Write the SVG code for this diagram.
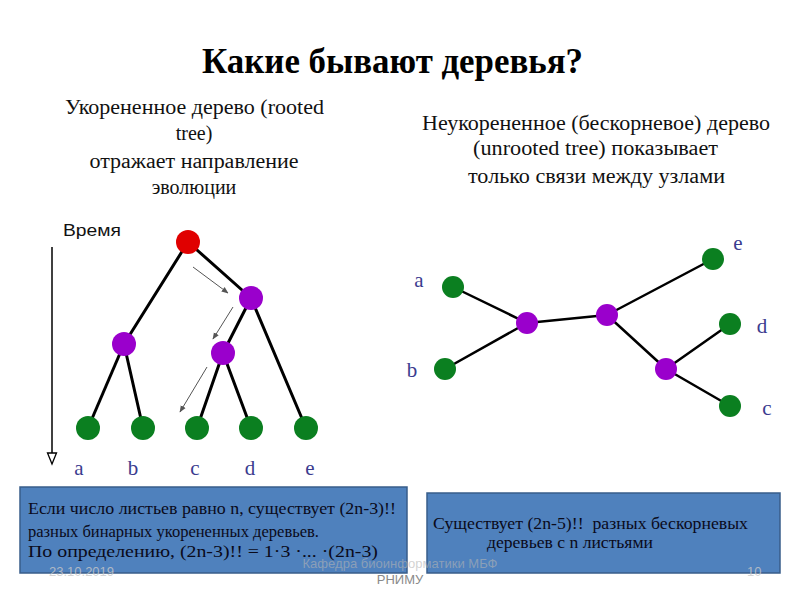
<svg xmlns="http://www.w3.org/2000/svg" width="800" height="600" viewBox="0 0 800 600">
  <defs>
    <marker id="thin" viewBox="0 0 10 10" refX="9" refY="5" markerWidth="7" markerHeight="7" orient="auto" markerUnits="userSpaceOnUse">
      <path d="M0,1 L10,5 L0,9 z" fill="#555"/>
    </marker>
  </defs>
  <style>
    .title { font-family: "Liberation Serif", "Times New Roman", serif; font-weight: bold; font-size: 36px; fill: #000; }
    .sub { font-family: "Liberation Serif", "Times New Roman", serif; font-size: 20px; fill: #111; text-anchor: middle; }
    .lbl { font-family: "Liberation Serif", "Times New Roman", serif; font-size: 21px; fill: #3b3b8f; text-anchor: middle; }
    .box { fill: #4f81bd; stroke: #385d8a; stroke-width: 1.5; }
    .boxtxt { font-family: "Liberation Serif", "Times New Roman", serif; font-size: 17px; fill: #0a0a1a; }
    .edge { stroke: #000; stroke-width: 3; stroke-linecap: round; fill: none; }
    .edge2 { stroke: #000; stroke-width: 2.5; stroke-linecap: round; fill: none; }
    .hint { stroke: #555; stroke-width: 1; fill: none; }
    .red { fill: #e00000; }
    .pur { fill: #9a00cc; }
    .grn { fill: #0b7f20; }
    .foot { font-family: "Liberation Sans", Arial, sans-serif; font-size: 13px; fill: #9a9a9a; }
  </style>
  <rect width="800" height="600" fill="#fff"/>

  <!-- Title and subtitles -->
  <text class="title" x="202" y="73" textLength="381" lengthAdjust="spacingAndGlyphs">Какие бывают деревья?</text>

  <text class="sub" x="194.5" y="114" textLength="259" lengthAdjust="spacingAndGlyphs">Укорененное дерево (rooted</text>
  <text class="sub" x="194" y="140">tree)</text>
  <text class="sub" x="194" y="168" textLength="209" lengthAdjust="spacingAndGlyphs">отражает направление</text>
  <text class="sub" x="194" y="194">эволюции</text>

  <text class="sub" x="596" y="130" textLength="348" lengthAdjust="spacingAndGlyphs">Неукорененное (бескорневое) дерево</text>
  <text class="sub" x="595.5" y="155" textLength="245" lengthAdjust="spacingAndGlyphs">(unrooted tree) показывает</text>
  <text class="sub" x="596.5" y="183" textLength="257" lengthAdjust="spacingAndGlyphs">только связи между узлами</text>

  <!-- Time axis -->
  <g id="time-axis">
    <text x="63" y="236" font-family="Liberation Sans, Arial, sans-serif" font-size="17" fill="#111" textLength="58" lengthAdjust="spacingAndGlyphs">Время</text>
    <line x1="52" y1="247" x2="52" y2="454" stroke="#000" stroke-width="1.5"/>
    <polygon points="47.5,453 56.5,453 52,464" fill="#fff" stroke="#000" stroke-width="1.3"/>
  </g>

  <!-- Connectors -->
  <g id="connectors">
    <!-- rooted tree -->
    <line class="edge" x1="188" y1="242" x2="124" y2="344"/>
    <line class="edge" x1="188" y1="242" x2="251" y2="298"/>
    <line class="edge" x1="251" y1="298" x2="223" y2="353"/>
    <line class="edge" x1="251" y1="298" x2="306" y2="428"/>
    <line class="edge" x1="124" y1="344" x2="88" y2="428"/>
    <line class="edge" x1="124" y1="344" x2="143" y2="428"/>
    <line class="edge" x1="223" y1="353" x2="197" y2="428"/>
    <line class="edge" x1="223" y1="353" x2="251" y2="428"/>
    <!-- direction hints -->
    <line class="hint" x1="193" y1="267" x2="228" y2="293" marker-end="url(#thin)"/>
    <line class="hint" x1="233" y1="307" x2="213" y2="339" marker-end="url(#thin)"/>
    <line class="hint" x1="207" y1="367" x2="180" y2="412" marker-end="url(#thin)"/>
    <!-- unrooted tree -->
    <line class="edge2" x1="453" y1="287" x2="527" y2="323"/>
    <line class="edge2" x1="445" y1="369" x2="527" y2="323"/>
    <line class="edge2" x1="527" y1="323" x2="607" y2="315"/>
    <line class="edge2" x1="607" y1="315" x2="713" y2="259"/>
    <line class="edge2" x1="607" y1="315" x2="666" y2="369"/>
    <line class="edge2" x1="666" y1="369" x2="730" y2="324"/>
    <line class="edge2" x1="666" y1="369" x2="730" y2="406"/>
  </g>

  <!-- Rooted tree nodes -->
  <g id="r-root"><circle class="red" cx="188" cy="242" r="12"/></g>
  <g id="r-n1"><circle class="pur" cx="251" cy="298" r="12"/></g>
  <g id="r-n2"><circle class="pur" cx="124" cy="344" r="12"/></g>
  <g id="r-n3"><circle class="pur" cx="223" cy="353" r="12"/></g>
  <g id="r-a"><circle class="grn" cx="88" cy="428" r="12"/><text class="lbl" x="79" y="475">a</text></g>
  <g id="r-b"><circle class="grn" cx="143" cy="428" r="12"/><text class="lbl" x="133" y="475">b</text></g>
  <g id="r-c"><circle class="grn" cx="197" cy="428" r="12"/><text class="lbl" x="195" y="475">c</text></g>
  <g id="r-d"><circle class="grn" cx="251" cy="428" r="12"/><text class="lbl" x="250" y="475">d</text></g>
  <g id="r-e"><circle class="grn" cx="306" cy="428" r="12"/><text class="lbl" x="310" y="475">e</text></g>

  <!-- Unrooted tree nodes -->
  <g id="u-p1"><circle class="pur" cx="527" cy="323" r="11"/></g>
  <g id="u-p2"><circle class="pur" cx="607" cy="315" r="11"/></g>
  <g id="u-p3"><circle class="pur" cx="666" cy="369" r="11"/></g>
  <g id="u-a"><circle class="grn" cx="453" cy="287" r="11"/><text class="lbl" x="419" y="287">a</text></g>
  <g id="u-b"><circle class="grn" cx="445" cy="369" r="11"/><text class="lbl" x="412" y="377">b</text></g>
  <g id="u-e"><circle class="grn" cx="713" cy="259" r="11"/><text class="lbl" x="738" y="250">e</text></g>
  <g id="u-d"><circle class="grn" cx="730" cy="324" r="11"/><text class="lbl" x="762" y="333">d</text></g>
  <g id="u-c"><circle class="grn" cx="730" cy="406" r="11"/><text class="lbl" x="767" y="415">c</text></g>

  <!-- Info boxes -->
  <g id="box-rooted">
    <rect class="box" x="20" y="487" width="387" height="86"/>
    <text class="boxtxt" x="28" y="514" textLength="368" lengthAdjust="spacingAndGlyphs">Если число листьев равно n, существует (2n-3)!!</text>
    <text class="boxtxt" x="28" y="537" textLength="291" lengthAdjust="spacingAndGlyphs">разных бинарных укорененных деревьев.</text>
    <text class="boxtxt" x="28" y="557" textLength="350" lengthAdjust="spacingAndGlyphs">По определению, (2n-3)!! = 1·3 ·... ·(2n-3)</text>
  </g>
  <g id="box-unrooted">
    <rect class="box" x="427" y="493" width="353" height="80"/>
    <text class="boxtxt" x="433" y="529" textLength="315" lengthAdjust="spacingAndGlyphs" xml:space="preserve">Существует (2n-5)!!  разных бескорневых</text>
    <text class="boxtxt" x="487" y="548" textLength="166" lengthAdjust="spacingAndGlyphs">деревьев с n листьями</text>
  </g>

  <!-- Footer -->
  <g id="footer">
    <text class="foot" x="49" y="576" font-size="12" style="fill:#c8c8c8;fill-opacity:0.8">23.10.2019</text>
    <text class="foot" x="400" y="568" text-anchor="middle" textLength="195" lengthAdjust="spacingAndGlyphs" style="fill:#b4b4b4;fill-opacity:0.6">Кафедра биоинформатики МБФ</text>
    <text class="foot" x="400" y="584" text-anchor="middle" style="fill:#8a8a8a">РНИМУ</text>
    <text class="foot" x="747" y="576" style="fill:#c8c8c8;fill-opacity:0.8">10</text>
  </g>
</svg>
